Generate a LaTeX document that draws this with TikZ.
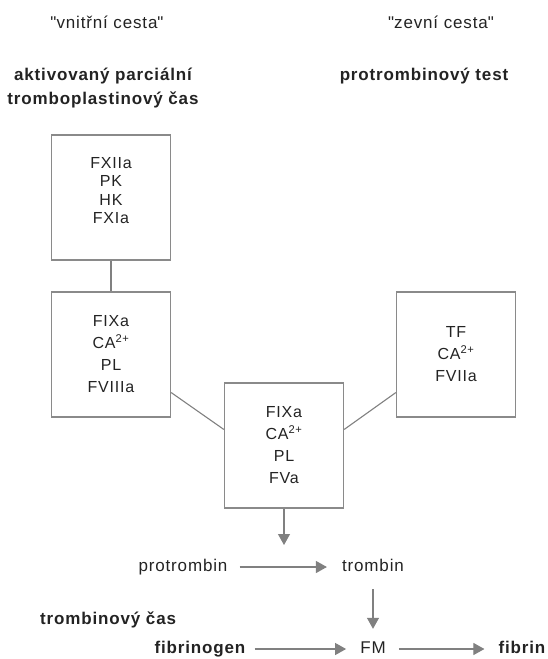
\documentclass[tikz,border=0pt]{standalone}
\usepackage{fontspec}
\setmainfont{Liberation Sans}[LetterSpace=5]
\usetikzlibrary{arrows.meta, positioning, calc}
\definecolor{linegray}{RGB}{128,128,128}
\definecolor{boxgray}{RGB}{138,138,138}
\definecolor{inkgray}{RGB}{35,35,35}

\begin{document}
\begin{tikzpicture}[x=1pt,y=-1pt,text=inkgray,
    box/.style={draw=boxgray, line width=1.2pt, minimum width=119pt, minimum height=125pt,
        align=center, inner sep=0pt, font=\fontsize{16}{22}\selectfont},
    word/.style={inner sep=0pt, text height=12.5pt, text depth=3.5pt, font=\fontsize{17}{24}\selectfont},
    heading/.style={inner sep=0pt, align=center, font=\fontsize{17}{24}\selectfont\bfseries},
    link/.style={draw=linegray, line width=1.1pt},
    flow/.style={link, color=linegray, -{Triangle[width=12pt,length=11pt]}}]

    \useasboundingbox (0,0) rectangle (547,659);

    % headings
    \node[inner sep=0pt, font=\fontsize{17}{24}\selectfont] (inner) at (107,22) {\textquotedbl vnitřní cesta\textquotedbl};
    \node[inner sep=0pt, font=\fontsize{17}{24}\selectfont] (outer) at (441,22) {\textquotedbl zevní cesta\textquotedbl};
    \node[heading] (aptt) at (103,88) {aktivovaný parciální\\tromboplastinový čas};
    \node[heading] (pt) at (424,76) {protrombinový test};

    % complexes
    \node[box, font=\fontsize{16}{18.5}\selectfont] (contact) at (111,197.5) {FXIIa\\PK\\HK\\FXIa\\[-4pt]\mbox{}};
    \node[box] (tenase) at (111,354.5) {FIXa\\ CA\textsuperscript{2+}\\PL\\FVIIIa};
    \node[box] (tf) at (456,354.5) {TF\\ CA\textsuperscript{2+}\\FVIIa};
    \node[box] (prothr) at (284,445.5) {FIXa\\ CA\textsuperscript{2+}\\PL\\FVa};

    \path[link]
    (contact) edge (tenase)
    ([yshift=-38pt]tenase.east) edge ([yshift=16pt]prothr.west)
    ([yshift=16pt]prothr.east) edge ([yshift=-38pt]tf.west)
    ;

    % products
    \node[word] (protrombin) at (183,567) {protrombin};
    \node[word] (trombin) at (373,567) {trombin};
    \node[word, anchor=west, font=\fontsize{17}{24}\selectfont\bfseries] (tt) at (40,620) {trombinový čas};
    \node[word, font=\fontsize{17}{24}\selectfont\bfseries] (fibrinogen) at (200,649) {fibrinogen};
    \node[word] (FM) at (373,649) {FM};
    \node[word, font=\fontsize{17}{24}\selectfont\bfseries] (fibrin) at (522,649) {fibrin};
    \coordinate (cat) at (284,567);

    \draw[flow, shorten >=22pt] (prothr) -- (cat);
    \draw[flow, shorten <=12pt, shorten >=15pt] (protrombin) -- (trombin);
    \draw[flow, shorten <=14pt, shorten >=12pt] (trombin) -- (FM);
    \draw[flow, shorten <=9pt, shorten >=14pt] (fibrinogen) -- (FM);
    \draw[flow, shorten <=13pt, shorten >=14pt] (FM) -- (fibrin);
\end{tikzpicture}
\end{document}
